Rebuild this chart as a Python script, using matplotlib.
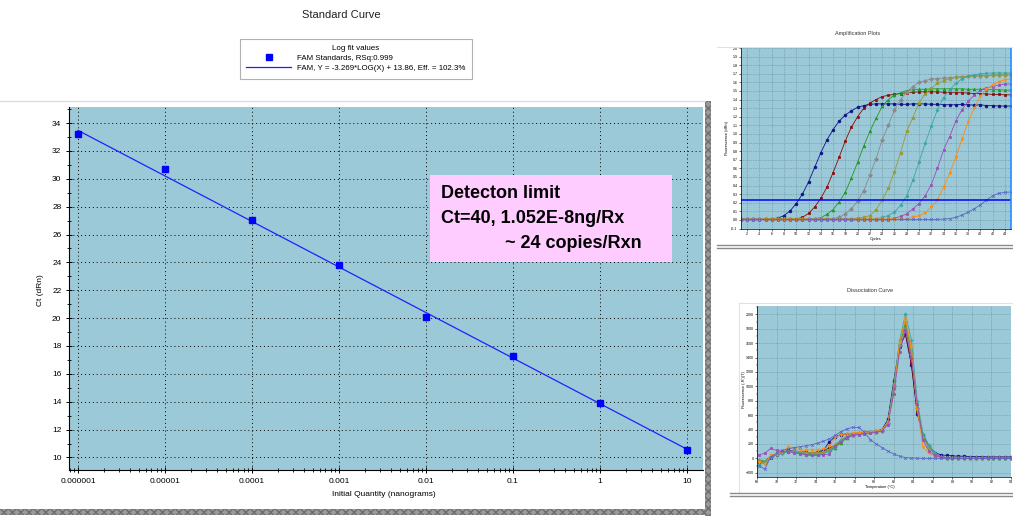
import matplotlib
matplotlib.use("Agg")
import matplotlib.pyplot as plt
import matplotlib.ticker as mticker
from matplotlib.patches import Rectangle
from matplotlib.lines import Line2D
import numpy as np

plt.rcParams['font.family'] = ['Liberation Sans', 'DejaVu Sans']

W, H = 1013, 518
BG = '#9bc9d7'

# ---- standard curve data
quantity = [1e-6, 1e-5, 1e-4, 1e-3, 1e-2, 1e-1, 1, 10]
quantity_labels = ['0.000001', '0.00001', '0.0001', '0.001', '0.01', '0.1', '1', '10']
ct_values = [33.2, 30.7, 27.05, 23.8, 20.05, 17.25, 13.9, 10.5]
fit_slope = -3.269
fit_intercept = 13.86

# ---- amplification plot data (cycles 1..45)
cycles = np.arange(1, 46)
amp_navy = [0.01] * 5 + [0.015, 0.02, 0.05, 0.105, 0.19, 0.30, 0.44, 0.61, 0.78, 0.93,
            1.05, 1.15, 1.22, 1.27, 1.31, 1.33, 1.345, 1.35, 1.35, 1.35, 1.35, 1.345,
            1.345, 1.35, 1.35, 1.35, 1.345, 1.345, 1.34, 1.34, 1.34, 1.345, 1.34, 1.335,
            1.34, 1.33, 1.33, 1.325, 1.325, 1.325]
amp_red = [0.01] * 10 + [0.03, 0.075, 0.15, 0.25, 0.38, 0.55, 0.73, 0.92, 1.08, 1.20,
           1.30, 1.36, 1.40, 1.435, 1.45, 1.46, 1.47, 1.48, 1.485, 1.49, 1.49, 1.49, 1.49,
           1.485, 1.48, 1.48, 1.48, 1.475, 1.47, 1.47, 1.465, 1.46, 1.46, 1.455, 1.455]
amp_green = [0.015] * 13 + [0.025, 0.065, 0.12, 0.21, 0.32, 0.49, 0.67,
             0.86, 1.03, 1.18, 1.32, 1.40, 1.45, 1.48, 1.505, 1.515, 1.52, 1.52, 1.525,
             1.525, 1.525, 1.525, 1.525, 1.525, 1.52, 1.52, 1.52, 1.515, 1.515, 1.515,
             1.51, 1.51]
amp_gray = [0.015] * 16 + [0.03, 0.07, 0.13, 0.22,
            0.34, 0.52, 0.71, 0.93, 1.10, 1.28, 1.40, 1.49, 1.55, 1.60, 1.62, 1.64, 1.645,
            1.65, 1.655, 1.66, 1.665, 1.67, 1.675, 1.68, 1.68, 1.685, 1.685, 1.69, 1.69]
amp_olive = [0.015] * 19 + [0.02,
             0.03, 0.05, 0.12, 0.23, 0.37, 0.56, 0.78, 1.03, 1.19, 1.36, 1.47, 1.53, 1.59,
             1.62, 1.64, 1.66, 1.665, 1.67, 1.675, 1.68, 1.68, 1.685, 1.685, 1.69, 1.69]
amp_teal = [0.01] * 23 + [0.03, 0.05, 0.09, 0.17, 0.28, 0.46, 0.67, 0.89, 1.09, 1.28,
            1.42, 1.51, 1.59, 1.64, 1.67, 1.69, 1.70, 1.705, 1.71, 1.71, 1.71, 1.71]
amp_purple = [0.0] * 25 + [0.02, 0.04, 0.07, 0.13, 0.19, 0.28, 0.41, 0.60, 0.81, 0.97,
              1.15, 1.28, 1.38, 1.45, 1.51, 1.54, 1.55, 1.57, 1.58, 1.58]
amp_orange = [0.01] * 28 + [0.03, 0.05, 0.08, 0.15, 0.23, 0.38, 0.54, 0.73, 0.94, 1.14,
              1.30, 1.44, 1.52, 1.57, 1.61, 1.63, 1.64]
amp_ntc = [0.005] * 33 + [0.01, 0.015, 0.03, 0.055, 0.09, 0.13, 0.175, 0.23, 0.28, 0.31,
           0.32, 0.325]
threshold = 0.234

# ---- dissociation curve data (temperature grid 68.2..94.0)
temps = np.round(np.arange(68.2, 94.01, 0.6), 1)
dis_navy = [-30, -50, 20, 60, 80, 110, 100, 90, 85, 70, 90, 110, 230, 300, 330, 340, 345,
            350, 360, 370, 380, 400, 540, 1080, 1560, 1720, 1300, 620, 330, 170, 80, 50,
            40, 35, 30, 30, 25, 25, 25, 20, 20, 20, 20, 20]
dis_red = [-50, -70, 10, 50, 80, 95, 95, 85, 75, 70, 80, 95, 150, 170, 250, 300, 330, 345,
           355, 365, 375, 395, 510, 1000, 1550, 1730, 1320, 650, 300, 160, 60, 25, 10, 5] + [0] * 10
dis_green = [-20, -40, 30, 60, 85, 100, 95, 80, 60, 55, 60, 80, 110, 150, 220, 280, 320, 340,
             350, 360, 370, 390, 490, 980, 1600, 1850, 1500, 720, 310, 170, 70, 25, 10, 5] + [0] * 10
dis_gray = [-30, -50, 20, 55, 85, 100, 100, 90, 80, 70, 75, 85, 115, 180, 250, 300, 330, 345,
            350, 360, 365, 385, 490, 1000, 1580, 1800, 1450, 700, 290, 160, 60, 20, 10, 5] + [0] * 10
dis_olive = [-40, -60, 25, 55, 80, 95, 100, 90, 80, 75, 80, 90, 120, 190, 260, 310, 335, 345,
             350, 360, 370, 385, 500, 1020, 1620, 1900, 1480, 690, 280, 150, 55, 20, 8, 4] + [0] * 10
dis_teal = [-90, -60, 15, 45, 70, 90, 85, 70, 50, 40, 45, 60, 100, 160, 240, 300, 330, 345,
            355, 360, 370, 390, 480, 1000, 1640, 2010, 1650, 800, 340, 180, 70, 25, 10, 5] + [0] * 10
dis_orange = [-50, -80, 40, 60, 90, 160, 140, 120, 110, 120, 110, 130, 170, 290, 330, 340, 350,
              355, 360, 365, 375, 395, 510, 900, 1620, 1950, 1550, 680, 160, 70, 25, 10, 5, 3] + [0] * 10
dis_purple = [50, 70, 140, 110, 100, 90, 80, 60, 50, 40, 45, 50, 60, 170, 230, 290, 320, 330,
              345, 350, 360, 380, 470, 900, 1480, 1780, 1400, 760, 250, 100, 40, 15, 8, 4] + [0] * 10
dis_ntc = [-100, -150, 20, 70, 110, 130, 150, 160, 175, 190, 210, 240, 270, 320, 370, 410, 430,
           430, 360, 260, 200, 150, 100, 60, 30, 10, 5, 3] + [0] * 16

series_colors = ['#10108a', '#8b0a0a', '#1f9a1f', '#8a8a8a', '#9a9a30',
                 '#3aa6a6', '#9a50b8', '#ff8c10', '#5a64c8']
series_markers = ['o', 's', '^', 'D', 'o', 'P', 's', 'v', 'x']
amp_series = [amp_navy, amp_red, amp_green, amp_gray, amp_olive,
              amp_teal, amp_purple, amp_orange, amp_ntc]
dis_series = [dis_navy, dis_red, dis_green, dis_gray, dis_olive,
              dis_teal, dis_orange, dis_purple, dis_ntc]
dis_colors = [series_colors[i] for i in (0, 1, 2, 3, 4, 5, 7, 6, 8)]
dis_markers = [series_markers[i] for i in (0, 1, 2, 3, 4, 5, 7, 6, 8)]


def fig_box(x0, y0, x1, y1):
    # pixel box (top-left origin) -> figure fraction rect
    return [x0 / W, 1 - y1 / H, (x1 - x0) / W, (y1 - y0) / H]


def px_rect(fig, x0, y0, x1, y1, **kw):
    l, b, w, h = fig_box(x0, y0, x1, y1)
    fig.add_artist(Rectangle((l, b), w, h, transform=fig.transFigure, **kw))


def px_line(fig, x0, y0, x1, y1, **kw):
    fig.add_artist(Line2D([x0 / W, x1 / W], [1 - y0 / H, 1 - y1 / H],
                          transform=fig.transFigure, **kw))


def px_text(fig, x, y, s, **kw):
    fig.text(x / W, 1 - y / H, s, **kw)


fig = plt.figure(figsize=(W / 100, H / 100), dpi=100)
fig.patch.set_facecolor('white')

# ---------------- main standard curve ----------------
ax = fig.add_axes(fig_box(69, 107, 703, 470))
ax.set_facecolor(BG)
ax.set_xscale('log')
ax.set_xlim(10 ** -6.103, 10 ** 1.184)
ax.set_ylim(9.1, 35.15)
for side in ('top', 'right'):
    ax.spines[side].set_visible(False)
ax.spines['left'].set_linewidth(0.8)
ax.spines['bottom'].set_linewidth(0.8)
ax.set_xticks(quantity)
ax.set_xticklabels(quantity_labels)
ax.xaxis.set_minor_locator(mticker.LogLocator(base=10, subs=range(2, 10), numticks=20))
ax.xaxis.set_minor_formatter(mticker.NullFormatter())
ax.yaxis.set_major_locator(mticker.MultipleLocator(2))
ax.yaxis.set_minor_locator(mticker.MultipleLocator(1))
ax.tick_params(which='major', direction='inout', length=5, width=0.7, labelsize=6, pad=3)
ax.tick_params(which='minor', direction='inout', length=3, width=0.6)
ax.grid(True, which='major', color='black', linestyle=(0, (1, 3)), linewidth=0.7)

fit_x = np.array([quantity[0], quantity[-1]])
fit_y = fit_slope * np.log10(fit_x) + fit_intercept
ax.plot(fit_x, fit_y, color='#2020ff', lw=0.9,
        label='FAM, Y = -3.269*LOG(X) + 13.86, Eff. = 102.3%')
ax.plot(quantity, ct_values, 's', color='#0000ff', ms=5, ls='none',
        label='FAM Standards, RSq:0.999')

handles, labels = ax.get_legend_handles_labels()
leg = fig.legend(handles[::-1], labels[::-1], loc='upper center',
                 bbox_to_anchor=(356 / W, 1 - 39 / H), title='Log fit values',
                 fontsize=5.7, title_fontsize=5.8, fancybox=False, framealpha=1,
                 edgecolor='#b0b0b0', handlelength=5.6, borderpad=0.8,
                 labelspacing=0.3, handletextpad=0.8, borderaxespad=0)
leg.get_frame().set_linewidth(0.8)

px_text(fig, 341, 15, 'Standard Curve', fontsize=8, ha='center', va='center', color='#222222')
px_text(fig, 40, 290, 'Ct (dRn)', fontsize=6, ha='center', va='center', rotation=90)
px_text(fig, 384, 494, 'Initial Quantity (nanograms)', fontsize=6, ha='center', va='center')

# detection-limit note
px_rect(fig, 430, 175, 672, 262, facecolor='#ffccff', edgecolor='none', zorder=5)
px_text(fig, 441, 194, 'Detecton limit', fontsize=13, fontweight='bold', va='center', zorder=6)
px_text(fig, 441, 219, 'Ct=40, 1.052E-8ng/Rx', fontsize=13, fontweight='bold', va='center', zorder=6)
px_text(fig, 505, 244, '~ 24 copies/Rxn', fontsize=13, fontweight='bold', va='center', zorder=6)

# panel frame and shadow strips
px_line(fig, 0, 101, 705, 101, color='#dcdcdc', lw=1)
px_rect(fig, 705, 101, 711, 516, facecolor='#9a9a9a', edgecolor='#6e6e6e',
        hatch='xxxx', lw=0)
px_rect(fig, 0, 509, 711, 515, facecolor='#9a9a9a', edgecolor='#6e6e6e',
        hatch='xxxx', lw=0)

# ---------------- amplification plots ----------------
ax2 = fig.add_axes(fig_box(741, 48, 1011, 228.5))
ax2.set_facecolor(BG)
ax2.set_xlim(1, 45)
ax2.set_ylim(-0.1, 2.0)
ax2.set_xticks(range(2, 45, 2))
ax2.set_yticks(np.round(np.arange(-0.1, 2.01, 0.1), 1))
ax2.yaxis.set_major_formatter(mticker.FormatStrFormatter('%.1f'))
ax2.tick_params(labelsize=2.6, length=1.5, width=0.4, pad=1)
ax2.grid(True, color='#4a6a7a', linestyle=(0, (1, 2)), linewidth=0.4)
ax2.spines['top'].set_visible(False)
ax2.spines['right'].set_color('#2a8cff')
ax2.spines['right'].set_linewidth(1.2)
for sp in ('left', 'bottom'):
    ax2.spines[sp].set_linewidth(0.5)
for vals, c, m in zip(amp_series, series_colors, series_markers):
    ax2.plot(cycles, vals, color=c, lw=0.6, marker=m, ms=2.0, mew=0.5)
ax2.axhline(threshold, color='#0000ff', lw=1.1)
px_text(fig, 858, 33, 'Amplification Plots', fontsize=4, ha='center', va='center', color='#333333')
px_text(fig, 876, 239, 'Cycles', fontsize=2.8, ha='center', va='center')
px_text(fig, 727, 138, 'Fluorescence (dRn)', fontsize=2.8, ha='center', va='center', rotation=90)
px_line(fig, 717, 47, 1013, 47, color='#e2e2e2', lw=0.8)
px_line(fig, 717, 245, 1013, 245, color='#8a8a8a', lw=1)
px_line(fig, 717, 248, 1013, 248, color='#8a8a8a', lw=1)

# ---------------- dissociation curve ----------------
ax3 = fig.add_axes(fig_box(757, 305.7, 1011, 476.7))
ax3.set_facecolor(BG)
ax3.set_xlim(68, 94)
ax3.set_ylim(-255, 2120)
ax3.set_xticks(range(68, 95, 2))
ax3.set_yticks(range(-200, 2001, 200))
ax3.yaxis.set_minor_locator(mticker.MultipleLocator(100))
ax3.tick_params(labelsize=2.6, length=1.5, width=0.4, pad=1)
ax3.tick_params(which='minor', length=1, width=0.3)
ax3.grid(True, color='#4a6a7a', linestyle=(0, (1, 2)), linewidth=0.4)
ax3.spines['top'].set_visible(False)
ax3.spines['right'].set_visible(False)
for sp in ('left', 'bottom'):
    ax3.spines[sp].set_linewidth(0.5)
for vals, c, m in zip(dis_series, dis_colors, dis_markers):
    ax3.plot(temps, vals, color=c, lw=0.6, marker=m, ms=2.0, mew=0.5)
px_text(fig, 870, 291, 'Dissociation Curve', fontsize=4, ha='center', va='center', color='#333333')
px_text(fig, 880, 487, 'Temperature (\u00b0C)', fontsize=2.8, ha='center', va='center')
px_text(fig, 744, 390, "Fluorescence (-R')(T)", fontsize=2.8, ha='center', va='center', rotation=90)
px_line(fig, 739, 303, 1013, 303, color='#e2e2e2', lw=0.8)
px_line(fig, 739, 303, 739, 493, color='#e2e2e2', lw=0.8)
px_line(fig, 730, 493, 1013, 493, color='#8a8a8a', lw=1)
px_line(fig, 730, 496, 1013, 496, color='#8a8a8a', lw=1)

fig.savefig('out.png', dpi=100)
